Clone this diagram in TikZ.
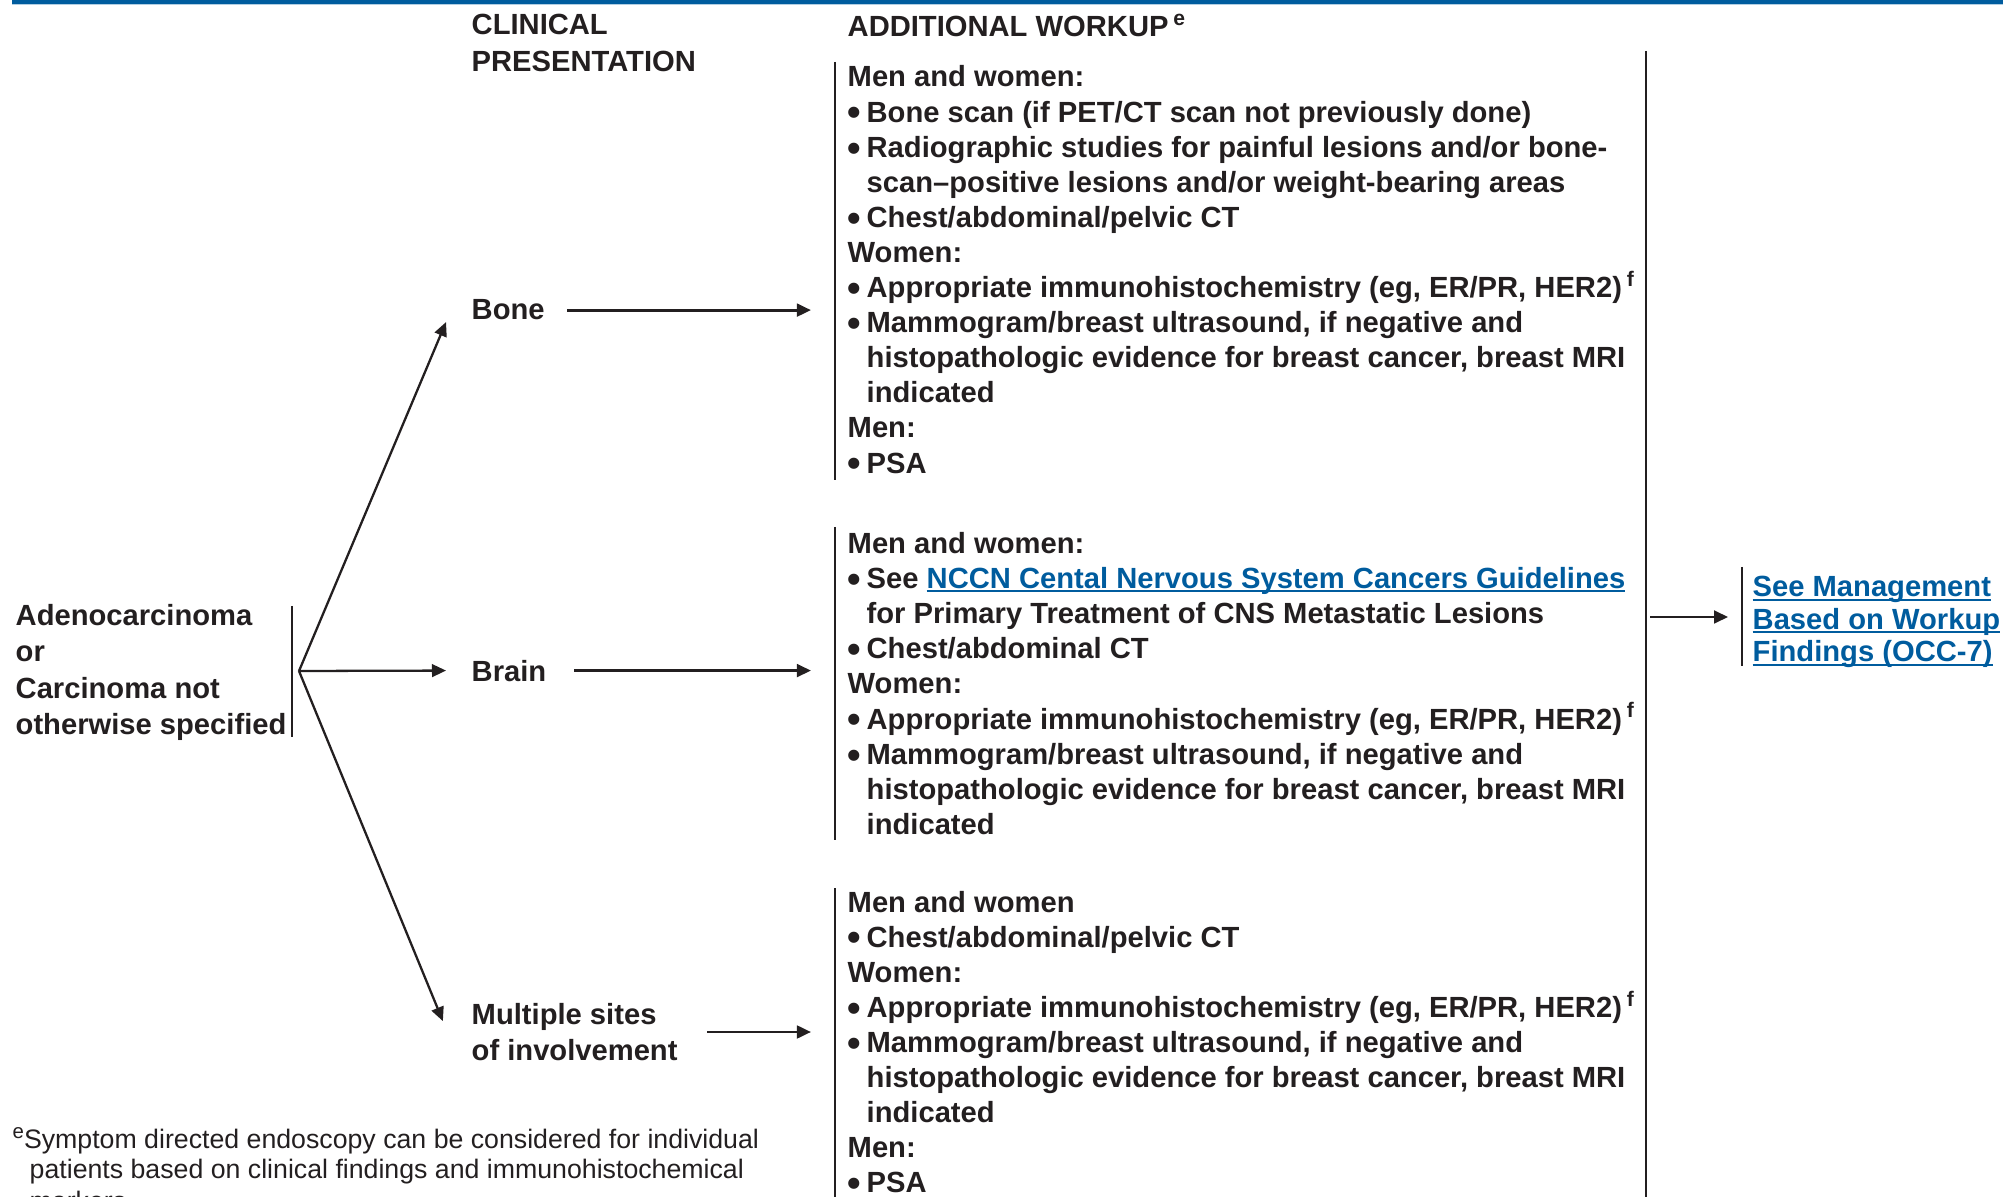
\documentclass[tikz,border=0pt]{standalone}
\usepackage{fontspec}
\setmainfont{Liberation Sans}
\usetikzlibrary{arrows.meta}
\definecolor{nccnblue}{RGB}{0,92,158}
\definecolor{ink}{RGB}{35,31,32}
\newlength{\lnkw}
\newcommand{\bul}{\makebox[5.4pt][l]{\raisebox{-1.1pt}{\fontsize{11pt}{10pt}\selectfont\textbullet}}}
\newcommand{\ind}{\hspace*{5.4pt}}
\newcommand{\sups}[1]{\raisebox{3.2pt}{\fontsize{6pt}{6pt}\selectfont #1}}
\newcommand{\lnk}[1]{\settowidth{\lnkw}{#1}\textcolor{nccnblue}{#1\hspace*{-\lnkw}\rule[-1.1pt]{\lnkw}{0.55pt}}}
\begin{document}
\begin{tikzpicture}[x=0.1mm,y=-0.1mm,
    txt/.style={anchor=base west,inner sep=0,text=ink,font=\fontsize{8.3pt}{10pt}\selectfont\bfseries},
    note/.style={anchor=base west,inner sep=0,text=ink,font=\fontsize{7.6pt}{9pt}\selectfont},
    arr/.style={-{Triangle[length=4pt,width=3.6pt]},line width=0.8pt,draw=ink},
    fanarr/.style={arr,line width=0.65pt},
    bar/.style={line width=0.6pt,draw=ink}]
  \useasboundingbox (0,0) rectangle (2003,1197);
  \clip (0,0) rectangle (2003,1197);
  \fill[nccnblue] (12,0) rectangle (2003,4);
  \draw[nccnblue!30,line width=0.3pt] (12,4.6) -- (2003,4.6);

  \node[txt] (hclin) at (471,35) {CLINICAL};
  \node[txt] (hpres) at (471,72) {PRESENTATION};
  \node[txt] (hwork) at (847,37) {ADDITIONAL WORKUP\,\sups{e}};

  \foreach \t [count=\i from 0] in {Adenocarcinoma,or,Carcinoma not,otherwise specified}
    \node[txt] (adeno-\i) at (15,{626+36*\i}) {\t};
  \draw[bar] (292,606) -- (292,737);
  \coordinate (fan) at (299,671);

  \node[txt] (bone) at (471,320) {Bone};
  \node[txt] (brain) at (471,681) {Brain};
  \node[txt,anchor=west,align=left] (multi) at (471,1032) {Multiple sites\\of involvement};

  \draw[fanarr] (fan) -- ([xshift=-7.1pt,yshift=-3.4pt]bone.west);
  \draw[fanarr] (fan) -- ([xshift=-7.1pt]brain.west);
  \draw[fanarr] (fan) -- ([xshift=-8pt,yshift=3.1pt]multi.west);

  \foreach \t [count=\i from 0] in {{Men and women:},
      {\bul Bone scan (if PET/CT scan not previously done)},
      {\bul Radiographic studies for painful lesions and/or bone-},
      {\ind scan--positive lesions and/or weight-bearing areas},
      {\bul Chest/abdominal/pelvic CT},
      {Women:},
      {\bul Appropriate immunohistochemistry (eg, ER/PR, HER2)\,\sups{f}},
      {\bul Mammogram/breast ultrasound, if negative and},
      {\ind histopathologic evidence for breast cancer, breast MRI},
      {\ind indicated},
      {Men:},
      {\bul PSA}}
    \node[txt] (wbone-\i) at (847,{87+35.1*\i}) {\t};
  \draw[bar] (835,62) -- (835,480);

  \foreach \t [count=\i from 0] in {{Men and women:},
      {\bul See \lnk{NCCN Cental Nervous System Cancers Guidelines}},
      {\ind for Primary Treatment of CNS Metastatic Lesions},
      {\bul Chest/abdominal CT},
      {Women:},
      {\bul Appropriate immunohistochemistry (eg, ER/PR, HER2)\,\sups{f}},
      {\bul Mammogram/breast ultrasound, if negative and},
      {\ind histopathologic evidence for breast cancer, breast MRI},
      {\ind indicated}}
    \node[txt] (wbrain-\i) at (847,{553+35.2*\i}) {\t};
  \draw[bar] (835,527) -- (835,840);

  \foreach \t [count=\i from 0] in {{Men and women},
      {\bul Chest/abdominal/pelvic CT},
      {Women:},
      {\bul Appropriate immunohistochemistry (eg, ER/PR, HER2)\,\sups{f}},
      {\bul Mammogram/breast ultrasound, if negative and},
      {\ind histopathologic evidence for breast cancer, breast MRI},
      {\ind indicated},
      {Men:},
      {\bul PSA}}
    \node[txt] (wmulti-\i) at (847,{912+35.1*\i}) {\t};
  \draw[bar] (835,888) -- (835,1197);

  \coordinate (wk) at (811,0);
  \draw[arr,shorten <=6.3pt] (bone) -- (bone -| wk);
  \draw[arr,shorten <=7.7pt] (brain) -- (brain -| wk);
  \draw[arr,shorten <=8.3pt] (multi) -- (multi -| wk);

  \draw[bar] (1646,51) -- (1646,1197);
  \coordinate (rbar) at (1650,617);
  \foreach \t [count=\i] in {See Management,Based on Workup,Findings (OCC-7)}
    \node[txt] (occ-\i) at (1752,{564.5+32.5*\i}) {\lnk{\t}};
  \draw[bar] (1742,567) -- (1742,666);
  \draw[arr] (rbar) -- ([xshift=-6.8pt]occ-2.west |- rbar);

  \node[note] (fn-1) at (12,1148) {\raisebox{2.6pt}{\fontsize{5.8pt}{6pt}\selectfont e}Symptom directed endoscopy can be considered for individual};
  \node[note] (fn-2) at (29,1178) {patients based on clinical findings and immunohistochemical};
  \node[note] (fn-3) at (29,1210) {markers.};
\end{tikzpicture}
\end{document}
